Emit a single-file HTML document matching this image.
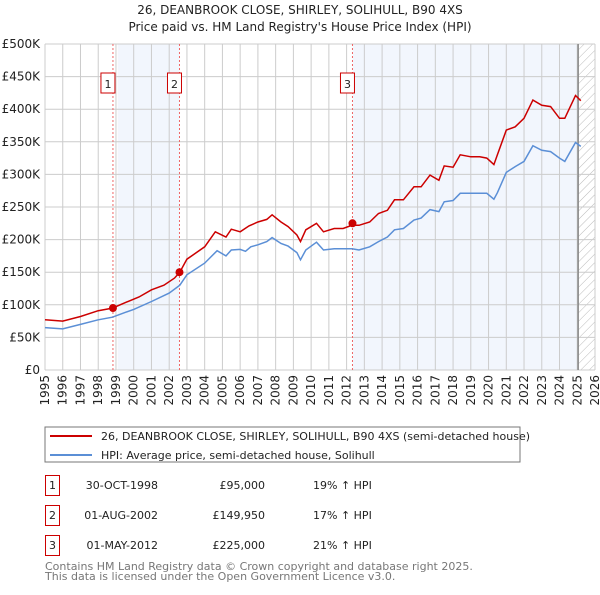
<!DOCTYPE html>
<html><head><meta charset="utf-8"><style>
body{margin:0;background:#fff;font-family:"Liberation Sans","DejaVu Sans",sans-serif;}
svg text{font-family:"DejaVu Sans","Liberation Sans",sans-serif;}
</style></head><body>
<svg id="c" width="600" height="590" viewBox="0 0 600 590" xmlns="http://www.w3.org/2000/svg">
<defs><pattern id="hatch" width="6" height="6" patternUnits="userSpaceOnUse" patternTransform="rotate(45)"><line x1="0" y1="0" x2="0" y2="6" stroke="#bbb" stroke-width="1"/></pattern></defs>
<text x="300" y="14" text-anchor="middle" font-size="12" fill="#222">26, DEANBROOK CLOSE, SHIRLEY, SOLIHULL, B90 4XS</text>
<text x="300" y="31" text-anchor="middle" font-size="12" fill="#222">Price paid vs. HM Land Registry's House Price Index (HPI)</text>
<g id="grid"></g><g id="marks"></g>
<rect x="45" y="427" width="475" height="35" fill="#fff" stroke="#777"/>
<line x1="50" y1="436" x2="92" y2="436" stroke="#cc0000" stroke-width="2"/>
<text x="101" y="440" font-size="11" fill="#222">26, DEANBROOK CLOSE, SHIRLEY, SOLIHULL, B90 4XS (semi-detached house)</text>
<line x1="50" y1="455" x2="92" y2="455" stroke="#5b8fd6" stroke-width="2"/>
<text x="101" y="459" font-size="11" fill="#222">HPI: Average price, semi-detached house, Solihull</text>
<g font-size="11" fill="#222">
<rect x="45.5" y="475.5" width="14" height="20" fill="none" stroke="#cc0000"/><text x="52.5" y="489" text-anchor="middle">1</text>
<text x="158" y="489" text-anchor="end">30-OCT-1998</text><text x="265" y="489" text-anchor="end">£95,000</text><text x="313" y="489">19% ↑ HPI</text>
<rect x="45.5" y="505.5" width="14" height="20" fill="none" stroke="#cc0000"/><text x="52.5" y="519" text-anchor="middle">2</text>
<text x="158" y="519" text-anchor="end">01-AUG-2002</text><text x="265" y="519" text-anchor="end">£149,950</text><text x="313" y="519">17% ↑ HPI</text>
<rect x="45.5" y="535.5" width="14" height="20" fill="none" stroke="#cc0000"/><text x="52.5" y="549" text-anchor="middle">3</text>
<text x="158" y="549" text-anchor="end">01-MAY-2012</text><text x="265" y="549" text-anchor="end">£225,000</text><text x="313" y="549">21% ↑ HPI</text>
</g>
<text x="45" y="570" font-size="11" fill="#777">Contains HM Land Registry data © Crown copyright and database right 2025.</text>
<text x="45" y="580" font-size="11" fill="#777">This data is licensed under the Open Government Licence v3.0.</text>
</svg>
<script>
const hpiYears=[1995,1996,1997,1998,1998.8,1999.5,2000,2001,2002,2002.6,2003,2004,2004.7,2005.2,2005.5,2006,2006.3,2006.6,2007,2007.5,2007.8,2008.3,2008.7,2009.2,2009.4,2009.7,2010.3,2010.7,2011.3,2011.8,2012.3,2012.7,2013.3,2013.8,2014.3,2014.7,2015.2,2015.8,2016.2,2016.7,2017.2,2017.5,2018,2018.4,2019,2019.5,2019.9,2020.3,2020.5,2021,2021.5,2022,2022.5,2023,2023.5,2024,2024.3,2024.9,2025.2];
const hpiValues=[65,63,70,77,81,88,93,105,118,130,146,164,183,175,184,185,182,189,192,197,203,194,190,180,169,184,196,184,186,186,186,184,189,197,204,215,217,230,233,246,243,258,260,271,271,271,271,262,272,303,312,320,344,337,335,325,320,349,343];
const priceYears=[1995,1996,1997,1998,1998.8,1999.5,2000.3,2001,2001.7,2002.3,2002.6,2003,2004,2004.6,2005.2,2005.5,2006,2006.5,2007,2007.5,2007.8,2008.3,2008.7,2009.2,2009.4,2009.7,2010.3,2010.7,2011.3,2011.8,2012.3,2012.7,2013.3,2013.8,2014.3,2014.7,2015.2,2015.8,2016.2,2016.7,2017.2,2017.5,2018,2018.4,2019,2019.5,2019.9,2020.3,2020.5,2021,2021.5,2022,2022.5,2023,2023.5,2024,2024.3,2024.9,2025.2];
const priceValues=[77,75,82,91,95,103,112,123,130,141,150,170,189,212,204,216,212,221,227,231,238,227,220,207,197,215,225,212,217,217,222,222,227,240,245,261,261,281,281,299,291,313,311,330,327,327,325,315,330,368,373,386,414,406,404,386,386,421,413];
const saleYears=[1998.83,2002.58,2012.33];
const saleValues=[95,149.95,225];
const saleLabels=["1","2","3"];
const yTicks=[0,50,100,150,200,250,300,350,400,450,500];
const yTickLabels=["£0","£50K","£100K","£150K","£200K","£250K","£300K","£350K","£400K","£450K","£500K"];
const xTicks=[1995,1996,1997,1998,1999,2000,2001,2002,2003,2004,2005,2006,2007,2008,2009,2010,2011,2012,2013,2014,2015,2016,2017,2018,2019,2020,2021,2022,2023,2024,2025,2026];
const X0=45,X1=595,Y0=370,Y1=44;
const xs=y=>X0+(y-1995)/(2026-1995)*(X1-X0);
const ys=v=>Y0-v/500*(Y0-Y1);
const NS="http://www.w3.org/2000/svg";
function mk(tag,attrs,parent,txt){const e=document.createElementNS(NS,tag);for(const k in attrs)e.setAttribute(k,attrs[k]);if(txt!==undefined)e.textContent=txt;parent.appendChild(e);return e;}
const g=document.getElementById('grid'),m=document.getElementById('marks');
let r=mk('rect',{x:xs(1999.1),y:Y1,width:xs(2002.58)-xs(1999.1),height:Y0-Y1,fill:'#f2f6fd'},g);


r=mk('rect',{x:xs(2012.35),y:Y1,width:xs(2025.05)-xs(2012.35),height:Y0-Y1,fill:'#f2f6fd'},g);


r=mk('rect',{x:xs(2025.05),y:Y1,width:X1-xs(2025.05),height:Y0-Y1,fill:'url(#hatch)'},g);


xTicks.forEach(t=>{const l=mk('line',{x1:xs(t),x2:xs(t),y1:Y1,y2:Y0,stroke:'#ccc'},g);


const tx=mk('text',{x:0,y:0,transform:`translate(${xs(t)+4},${Y0+5}) rotate(-90)`,'text-anchor':'end','font-size':'12',fill:'#222'},g,String(t));

});
yTicks.forEach((t,i)=>{const l=mk('line',{x1:X0,x2:X1,y1:ys(t),y2:ys(t),stroke:'#ccc'},g);


const tx=mk('text',{x:X0-5,y:ys(t)+4,'text-anchor':'end','font-size':'12',fill:'#222'},g,yTickLabels[i]);

});
r=mk('line',{x1:xs(2025.05),x2:xs(2025.05),y1:Y1,y2:Y0,stroke:'#888','stroke-width':1.5},g);


saleYears.forEach((y,i)=>{const l=mk('line',{x1:xs(y),x2:xs(y),y1:Y1,y2:Y0,stroke:'#e66','stroke-dasharray':'2,2'},m);


const b=mk('rect',{x:xs(y)-12,y:73,width:14,height:20,fill:'#fff',stroke:'#cc0000'},m);


const t=mk('text',{x:xs(y)-5,y:88,'text-anchor':'middle','font-size':'11',fill:'#222'},m,saleLabels[i]);

});
const pth=(yrs,vals)=>yrs.map((y,i)=>(i?'L':'M')+xs(y).toFixed(1)+','+ys(vals[i]).toFixed(1)).join('');
let p=mk('path',{d:pth(hpiYears,hpiValues),fill:'none',stroke:'#5b8fd6','stroke-width':1.5},m);


p=mk('path',{d:pth(priceYears,priceValues),fill:'none',stroke:'#cc0000','stroke-width':1.5},m);


saleYears.forEach((y,i)=>{const c=mk('circle',{cx:xs(y),cy:ys(saleValues[i]),r:4,fill:'#cc0000'},m);

});
</script>
</body></html>
